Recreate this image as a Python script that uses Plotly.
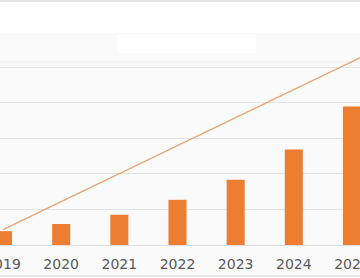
import plotly.graph_objects as go

years = ["2019", "2020", "2021", "2022", "2023", "2024", "2025", "2026"]
bar_values = [3.9, 5.9, 8.5, 12.7, 18.3, 26.8, 38.9, None]
trend_values = [4.3, 12.2, 20.0, 27.9, 35.8, 43.6, 51.5, 59.4]
grid_values = [0, 10, 20, 30, 40, 50]

PLOT_BOTTOM = 245
PX_PER_UNIT = 3.56


def py(pixel_y):
    return (PLOT_BOTTOM - pixel_y) / PLOT_BOTTOM


fig = go.Figure()
fig.add_trace(go.Bar(x=years, y=bar_values, marker_color="#ed7d31",
                     marker_line_width=0, showlegend=False))
fig.add_trace(go.Scatter(x=years, y=trend_values, mode="lines",
                         line=dict(color="#e3a674", width=1.3), showlegend=False))

fig.update_layout(
    width=360, height=278,
    margin=dict(l=0, r=0, t=0, b=278 - PLOT_BOTTOM, pad=0),
    paper_bgcolor="#fafafa",
    plot_bgcolor="#fafafa",
    bargap=0.69,
    font=dict(family="DejaVu Sans", size=14, color="#595959"),
    xaxis=dict(range=[-0.052, 6.138], showgrid=False, showline=True,
               linecolor="#dedede", linewidth=1, ticks="", ticklabelstandoff=6,
               automargin=False, categoryorder="array", categoryarray=years),
    yaxis=dict(range=[0, PLOT_BOTTOM / PX_PER_UNIT], tickvals=grid_values,
               showgrid=True, gridcolor="#e3e3e3", gridwidth=1,
               showticklabels=False, zeroline=False, automargin=False),
    shapes=[
        dict(type="rect", xref="paper", yref="paper", x0=0, x1=1,
             y0=py(33), y1=py(0), fillcolor="#ffffff", line_width=0,
             layer="below"),
        dict(type="line", xref="paper", yref="paper", x0=0, x1=1,
             y0=py(62), y1=py(62), line=dict(color="#efefef", width=1),
             layer="below"),
        dict(type="rect", xref="paper", yref="paper", x0=117/360, x1=256/360,
             y0=py(53), y1=py(34), fillcolor="white", line_width=0,
             layer="below"),
        dict(type="line", xref="paper", yref="paper", x0=0, x1=1,
             y0=py(1), y1=py(1), line=dict(color="#dcdcdc", width=1.5)),
        dict(type="line", xref="paper", yref="paper", x0=0, x1=1,
             y0=py(276), y1=py(276), line=dict(color="#e2e2e2", width=1.5)),
    ],
)

fig.write_html("out.html")
